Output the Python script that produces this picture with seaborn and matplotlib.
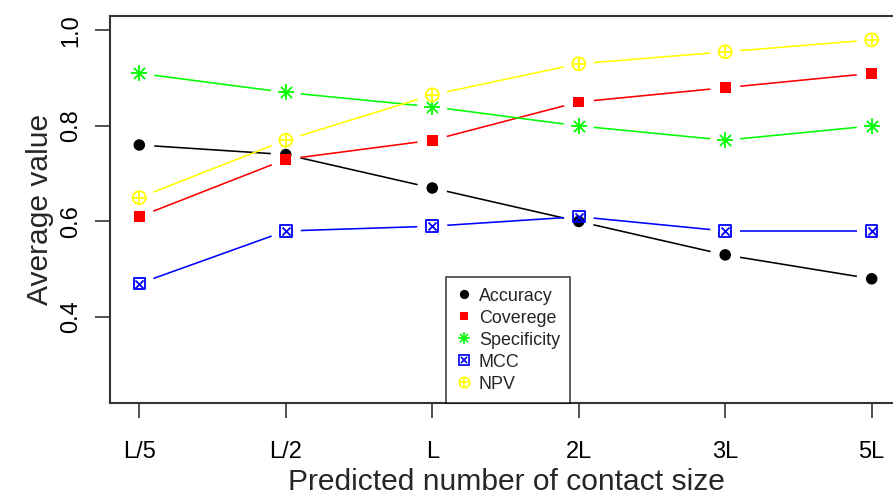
import numpy as np
import pandas as pd
import matplotlib
matplotlib.use("Agg")
import matplotlib.pyplot as plt
from matplotlib.lines import Line2D
import seaborn as sns

# Data
sizes = ["L/5", "L/2", "L", "2L", "3L", "5L"]
accuracy = [0.76, 0.74, 0.67, 0.60, 0.53, 0.48]
coverege = [0.61, 0.73, 0.77, 0.85, 0.88, 0.91]
specificity = [0.91, 0.87, 0.84, 0.80, 0.77, 0.80]
mcc = [0.47, 0.58, 0.59, 0.61, 0.58, 0.58]
npv = [0.65, 0.77, 0.865, 0.93, 0.955, 0.98]
y_ticks = [0.4, 0.6, 0.8, 1.0]

sns.set_style("white")
plt.rcParams["font.family"] = ["Liberation Sans", "DejaVu Sans"]

W, H = 893, 495
fig = plt.figure(figsize=(W / 100, H / 100), dpi=100)
ax = fig.add_axes([110 / W, (H - 403) / H, (901 - 110) / W, (403 - 16) / H])
ax.set_xlim(0.8, 6.2)
ax.set_ylim(0.22, 1.03)

xpos = np.arange(1, len(sizes) + 1)

series = [
    ("Accuracy", accuracy, "#000000"),
    ("Coverege", coverege, "#ff0000"),
    ("Specificity", specificity, "#00ff00"),
    ("MCC", mcc, "#0000ff"),
    ("NPV", npv, "#ffff00"),
]

# marker recipes (R pch 19, 15, 8, 7, 10), each a list of (marker, size_pt, filled)
recipes = {
    "Accuracy": [("o", 8.3, True)],
    "Coverege": [("s", 7.8, True)],
    "Specificity": [("+", 11.0, False), ("x", 8.0, False)],
    "MCC": [("s", 8.3, False), ("x", 5.8, False)],
    "NPV": [("o", 9.3, False), ("+", 9.3, False)],
}

gap = 15.0  # pixels left open around each point (type "b")


def gapped_segments(xs, ys):
    pts = ax.transData.transform(np.column_stack([xs, ys]))
    segs = []
    for p0, p1 in zip(pts[:-1], pts[1:]):
        d = p1 - p0
        L = np.hypot(*d)
        if L <= 2 * gap:
            continue
        u = d / L
        a = ax.transData.inverted().transform(p0 + u * gap)
        b = ax.transData.inverted().transform(p1 - u * gap)
        segs.append((a, b))
    return segs


for name, vals, col in series:
    for a, b in gapped_segments(xpos, vals):
        ax.plot([a[0], b[0]], [a[1], b[1]], color=col, lw=1.15, solid_capstyle="butt", zorder=2)

for name, vals, col in series:
    df = pd.DataFrame({"x": xpos, "y": vals})
    for mk, ms, filled in recipes[name]:
        if filled:
            sns.scatterplot(data=df, x="x", y="y", marker=mk, s=ms ** 2, color=col,
                            edgecolor="none", linewidth=0, ax=ax, zorder=3)
        elif mk in ("+", "x"):
            sns.scatterplot(data=df, x="x", y="y", marker=mk, s=ms ** 2, color=col,
                            linewidth=1.3, ax=ax, zorder=3)
        else:
            sns.scatterplot(data=df, x="x", y="y", marker=mk, s=ms ** 2, facecolor="none",
                            edgecolor=col, linewidth=1.3, ax=ax, zorder=3)

ax.set_xticks(xpos)
ax.set_xticklabels(sizes)
ax.set_yticks(y_ticks)
ax.set_yticklabels([f"{v:.1f}" for v in y_ticks], rotation=90, va="center")
ax.tick_params(axis="both", direction="out", length=10.8, width=1.1, color="#222222",
               labelsize=17, labelcolor="black", left=True, bottom=True)
ax.tick_params(axis="x", pad=16.5)
ax.tick_params(axis="y", pad=9.5)

for side in ["left", "bottom", "top"]:
    ax.spines[side].set_visible(True)
    ax.spines[side].set_color("#333333")
    ax.spines[side].set_linewidth(1.5)
ax.spines["right"].set_visible(False)

ax.set_xlabel("")
ax.set_ylabel("")
fig.text(506 / W, 1 - 490 / H, "Predicted number of contact size", fontsize=21.6,
         ha="center", va="baseline")
fig.text(40 / W, 1 - 209 / H, "Average value", fontsize=21.6, ha="center", va="center",
         rotation=90)

# legend with composite markers
handles = []
for name, vals, col in series:
    parts = []
    for mk, ms, filled in recipes[name]:
        if filled:
            parts.append(Line2D([], [], ls="none", marker=mk, ms=ms * 0.8, color=col,
                                markeredgewidth=0))
        elif mk in ("+", "x"):
            parts.append(Line2D([], [], ls="none", marker=mk, ms=ms * 0.8, color=col,
                                markeredgewidth=1.2))
        else:
            parts.append(Line2D([], [], ls="none", marker=mk, ms=ms * 0.8, markerfacecolor="none",
                                markeredgecolor=col, markeredgewidth=1.2))
    handles.append(tuple(parts))

leg = ax.legend(handles, [s[0] for s in series], loc="lower left",
                bbox_to_anchor=(446 / W, 1 - 403 / H), bbox_transform=fig.transFigure,
                borderaxespad=0, frameon=True, fancybox=False, fontsize=12.9,
                handlelength=0.8, handletextpad=0.45, labelspacing=0.28,
                borderpad=0.58, edgecolor="black")
leg.get_frame().set_linewidth(1.1)
leg.set_zorder(5)

fig.savefig("out.png", dpi=100, facecolor="white")
